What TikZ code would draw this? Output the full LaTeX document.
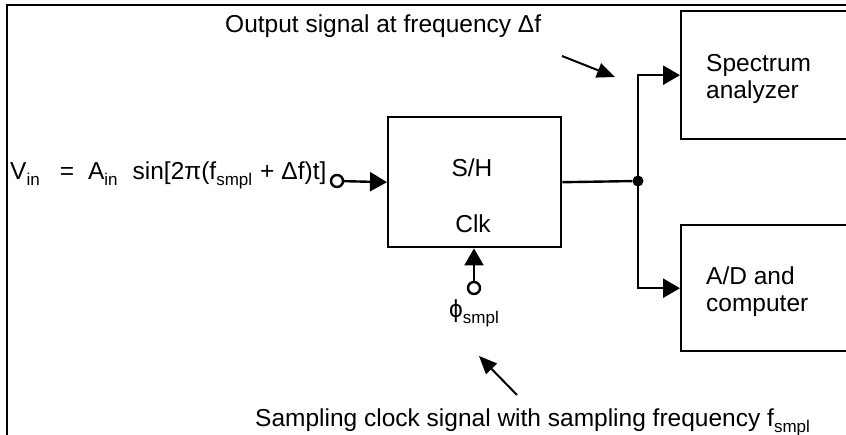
\documentclass[tikz,border=0pt]{standalone}
\usepackage{fontspec}
\setmainfont{Liberation Sans}
\usetikzlibrary{arrows.meta}
\newcommand\subs[1]{\raisebox{-0.22em}{\fontsize{17}{17}\selectfont #1}}
\begin{document}
\begin{tikzpicture}[x=1pt,y=-1pt,
  every node/.style={font=\fontsize{24.5}{28}\selectfont},
  box/.style={draw,line width=2.4pt,inner sep=0pt,anchor=north west},
  term/.style={circle,draw,line width=2.4pt,minimum size=12pt,inner sep=0pt},
  conn/.style={line width=2.4pt},
  arr/.style={line width=2.4pt,-{Triangle[length=17pt,width=19pt]}},
  note/.style={line width=2pt,-{Triangle[length=18pt,width=15pt]}},
  lbl/.style={anchor=base west,inner sep=0pt},
  clbl/.style={anchor=base,inner sep=0pt}]
\useasboundingbox (0,0) rectangle (846,435);
\clip (0,0) rectangle (846,435);
\fill[white] (0,0) rectangle (846,435);
% frame
\draw[line width=2pt] (7,437) -- (7,5) -- (850,5);
% blocks
\node[box,minimum width=173pt,minimum height=130pt] (sh) at (387,116) {};
\node[box,minimum width=200pt,minimum height=128pt] (sa) at (680,10) {};
\node[box,minimum width=200pt,minimum height=126pt] (ad) at (680,224) {};
\node[clbl] (shl) at (472,177) {S/H};
\node[clbl] (clkl) at (473,233) {Clk};
\node[lbl] (sal1) at (706,72) {Spectrum};
\node[lbl] (sal2) at (706,99) {analyzer};
\node[lbl] (adl1) at (706,285) {A/D and};
\node[lbl] (adl2) at (706,312) {computer};
% input
\node[lbl] (vin) at (10,180) {V\subs{in}\hspace{20pt}=\hspace{14pt}A\subs{in}\hspace{15pt}sin[2π(f\subs{smpl}\hspace{8pt}+\hspace{7pt}Δf)t]};
\node[term] (inc) at (337,181) {};
\draw[arr] (inc) -- (sh.west);
% clock
\node[term] (clk) at (474,288) {};
\draw[arr] (clk) -- (clk |- sh.south);
\node[clbl] (phi) at (474,318) {ϕ\subs{smpl}};
% output
\node[circle,fill,minimum size=11pt,inner sep=0pt] (j) at (638,181) {};
\draw[conn] (sh.east) -- (j);
\draw[arr] (j.center) |- (sa.west);
\draw[arr] (j.center) |- (ad.west);
% annotations
\node[lbl] (outl) at (225,33) {Output signal at frequency Δf};
\coordinate (o1) at (562,56);
\coordinate (o2) at (615,77);
\draw[note] (o1) -- (o2);
\node[lbl] (sampl) at (255,427) {Sampling clock signal with sampling frequency f\subs{smpl}};
\coordinate (s1) at (517,395);
\coordinate (s2) at (479,356);
\draw[note] (s1) -- (s2);
\end{tikzpicture}
\end{document}
